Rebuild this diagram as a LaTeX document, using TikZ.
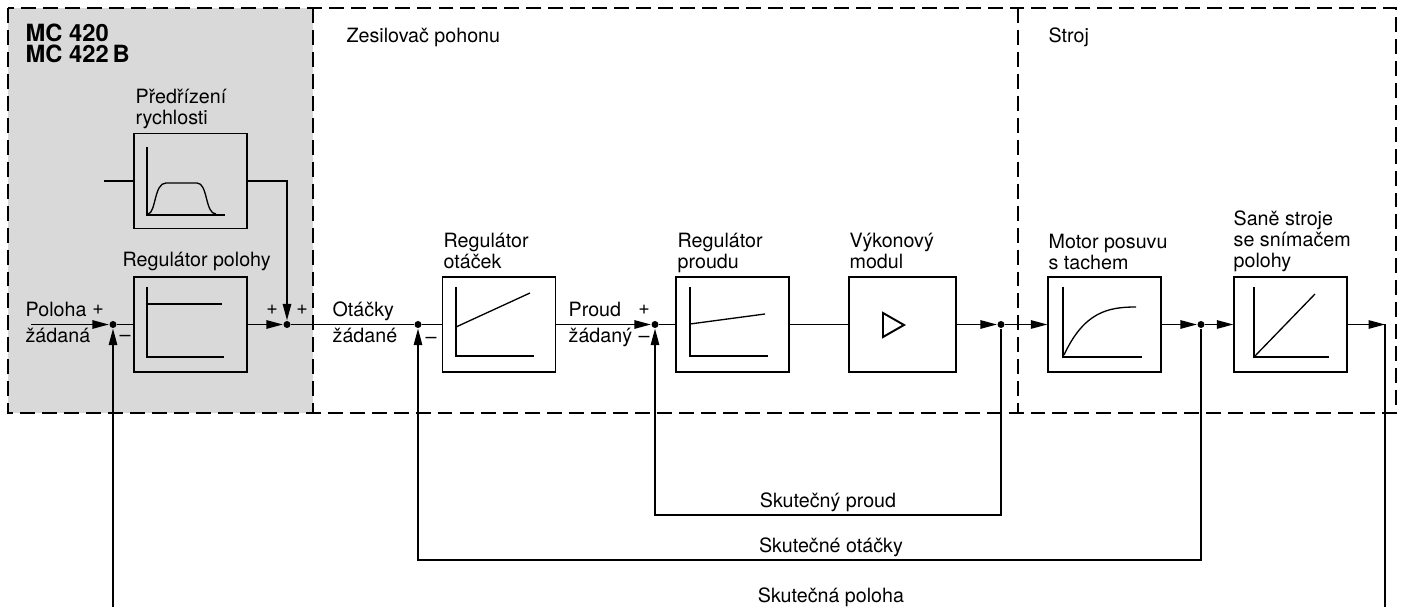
\documentclass[tikz,border=0pt]{standalone}
\usepackage{fontspec}
\setmainfont{TeX Gyre Heros}
\usetikzlibrary{arrows.meta}

\tikzset{
  blok/.style={draw, line width=0.8pt, minimum width=2.26cm, minimum height=1.9cm, inner sep=0pt},
  uzel/.style={circle, fill, inner sep=0pt, minimum size=0.14cm},
  popis/.style={anchor=base west, inner sep=0pt, align=left, font=\fontsize{11.2}{12}\selectfont},
  znak/.style={inner sep=0pt, font=\fontsize{11.2}{12}\selectfont},
  osa/.style={line width=1.4pt},
  sipka/.style={-{Triangle[length=0.33cm, width=0.17cm]}},
  ramec/.style={dash pattern=on 8.5pt off 4pt, line width=0.8pt},
}

\begin{document}
\begin{tikzpicture}[x=0.02cm, y=-0.02cm, line width=0.75pt]
\useasboundingbox (0,0) rectangle (1401,607);

% ramecky
\fill[gray!30] (8,8) rectangle (313,413);
\draw[ramec] (8,8) rectangle (1396,413);
\draw[ramec] (313,8) -- (313,413);
\draw[ramec] (1018,8) -- (1018,413);

\node[popis, font=\fontsize{13.5}{12}\selectfont\bfseries] (mc) at (25,63) {MC 420\\MC 422\,B};
\node[popis] (zes) at (346,43) {Zesilovač pohonu};
\node[popis] (stroj) at (1048,43) {Stroj};

% bloky
\node[blok] (pred) at (190.5,181) {};
\node[blok] (poloh) at (190.5,324.5) {};
\node[blok] (otac) at (499,324.5) {};
\node[blok] (proud) at (732.5,324.5) {};
\node[blok, minimum width=2.14cm] (vykon) at (902.5,324.5) {};
\node[blok] (motor) at (1104.5,324.5) {};
\node[blok] (sane) at (1290.5,324.5) {};

\node[popis] (l-pred) at (135,125) {Předřízení\\rychlosti};
\node[popis] (l-poloh) at (122,267) {Regulátor polohy};
\node[popis] (l-otac) at (443,269) {Regulátor\\otáček};
\node[popis] (l-proud) at (677,269) {Regulátor\\proudu};
\node[popis] (l-vykon) at (849,269) {Výkonový\\modul};
\node[popis] (l-motor) at (1048,270) {Motor posuvu\\s tachem};
\node[popis] (l-sane) at (1233,268) {Saně stroje\\se snímačem\\polohy};

% charakteristiky
\draw[osa] (147,147) |- (225,215);
\draw (148,214) .. controls (156,213) and (154,183) .. (166,183) -- (197,183)
  .. controls (208,183) and (205,214) .. (216,214);
\draw[osa] (147,287) |- (224,357);
\draw (147,304) -- (222,304);
\draw[osa] (456,287) |- (534,356);
\draw (456,327) -- (530,293);
\draw[osa] (690,287) |- (768,356);
\draw (690,324) -- (765,314);
\draw[line width=1.1pt] (883,313) -- (883,337) -- (904,325) -- cycle;
\draw[osa] (1063,287) |- (1142,357);
\draw (1064,355) .. controls (1084,312) and (1108,307) .. (1136,307);
\draw[osa] (1254,287) |- (1329,357);
\draw (1254,357) -- (1315,294);

% uzly
\node[uzel] (sp) at (113,324.5) {};
\node[uzel] (ss) at (287,324.5) {};
\node[uzel] (so) at (418,324.5) {};
\node[uzel] (si) at (655,324.5) {};
\node[uzel] (jv) at (1001,324.5) {};
\node[uzel] (jm) at (1201,324.5) {};

\coordinate (cin) at (31,324.5);
\coordinate (cpin) at (104,181);
\coordinate (cout) at (1385,324.5);
\coordinate (cbot1) at (113,607);
\coordinate (cbot2) at (1385,607);
\coordinate (cpr) at (655,515);
\coordinate (cot) at (418,560);

% signaly
\node[popis] (poloha) at (25,316.5) {Poloha};
\node[popis] (zadana) at (25,343) {žádaná};
\node[popis] (otacky) at (332,316.5) {Otáčky};
\node[popis] (zadane) at (332,343) {žádané};
\node[popis] (proudz) at (568,316.5) {Proud};
\node[popis] (zadany) at (568,343) {žádaný};

\node[znak] (z1) at (98,310) {+};
\node[znak] (z2) at (125,338) {–};
\node[znak] (z3) at (272,310) {+};
\node[znak] (z4) at (302,310) {+};
\node[znak] (z5) at (431,340) {–};
\node[znak] (z6) at (644,310) {+};
\node[znak] (z7) at (644,339) {–};

\draw (cpin) -- (pred);
\draw[sipka] (pred) -| (ss);
\draw[sipka] (cin) -- (sp);
\draw (sp) -- (poloh);
\draw[sipka] (poloh) -- (ss);
\draw (ss) -- (so);
\draw (so) -- (otac);
\draw[sipka] (otac) -- (si);
\draw (si) -- (proud);
\draw (proud) -- (vykon);
\draw[sipka] (vykon) -- (jv);
\draw[sipka] (jv) -- (motor);
\draw[sipka] (motor) -- (jm);
\draw[sipka] (jm) -- (sane);
\draw[sipka] (sane) -- (cout);
\draw (cout) -- (cbot2);

% zpetne vazby
\draw[sipka] (jv) |- (cpr) -- (si);
\draw[sipka] (jm) |- (cot) -- (so);
\draw[sipka] (cbot1) -- (sp);

\node[popis, anchor=base] (skpr) at (828,508) {Skutečný proud};
\node[popis, anchor=base] (skot) at (831,553) {Skutečné otáčky};
\node[popis, anchor=base] (skpo) at (831,603) {Skutečná poloha};
\end{tikzpicture}
\end{document}
